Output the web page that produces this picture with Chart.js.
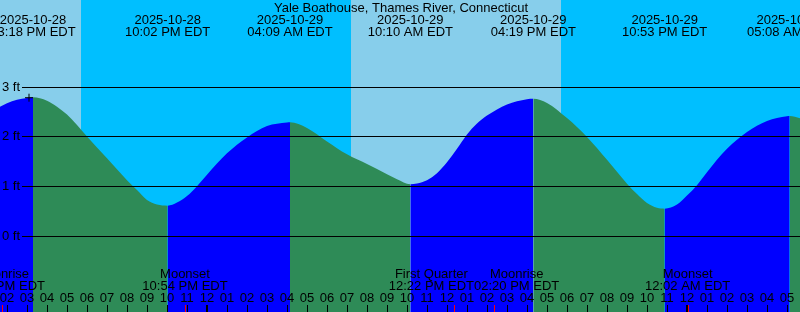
<!DOCTYPE html>
<html><head><meta charset="utf-8">
<script src="https://cdn.jsdelivr.net/npm/chart.js@4/dist/chart.umd.min.js"></script>
<style>html,body{margin:0;padding:0;background:#fff;overflow:hidden}#wrap{width:800px;height:312px}</style>
</head><body><div id="wrap"><canvas id="c" width="800" height="312"></canvas></div>
<script>
const TITLE = 'Yale Boathouse, Thames River, Connecticut';
// Times are hours since 2025-10-28 00:00 EDT; heights in feet
const sampleHours = [13.6,14,14.5,15,16,16.5,17,17.5,18,19,20,20.5,21,21.5,22.5,23,23.5,24,25,26,27,28,29,30,31,32,33,33.5,34.5,35,35.5,36,36.5,37,37.5,38,39,40,41,42,43,44,45,45.5,46,46.5,47.5,48,48.5,49,50,51,52,53,53.7];
const sampleFeet  = [2.60,2.68,2.75,2.785,2.73,2.61,2.45,2.24,2.01,1.57,1.13,0.93,0.73,0.64,0.68,0.81,1.01,1.24,1.67,1.99,2.22,2.29,2.18,1.91,1.65,1.455,1.25,1.15,1.065,1.13,1.27,1.49,1.76,2.05,2.27,2.43,2.655,2.76,2.685,2.38,2.00,1.54,1.06,0.85,0.67,0.575,0.64,0.82,1.03,1.29,1.76,2.10,2.32,2.415,2.37];

const extremeKind  = ['High','Low','High','Low','High','Low','High'];
const extremeDates = ['2025-10-28','2025-10-28','2025-10-29','2025-10-29','2025-10-29','2025-10-29','2025-10-30'];
const extremeClock = ['03:18 PM EDT','10:02 PM EDT','04:09 AM EDT','10:10 AM EDT','04:19 PM EDT','10:53 PM EDT','05:08 AM EDT'];
const extremeFeet  = [2.80,0.617,2.295,1.05,2.77,0.557,2.42];

const moonNames = ['Moonrise','Moonset','First Quarter','Moonrise','Moonset'];
const moonDates = ['2025-10-28','2025-10-28','2025-10-29','2025-10-29','2025-10-30'];
const moonClock = ['01:46 PM EDT','10:54 PM EDT','12:22 PM EDT','02:20 PM EDT','12:02 AM EDT'];

const sunsetDates  = ['2025-10-28','2025-10-29'];
const sunsetClock  = ['05:42 PM EDT','05:42 PM EDT'];
const sunriseDates = ['2025-10-29'];
const sunriseClock = ['07:12 AM EDT'];

const gridFeet = [0,1,2,3];
const markHour = 15.1, markFeet = 2.79;

const X_MIN = 13.65, X_MAX = 53.65;
const Y_MIN = -1.524, Y_MAX = 4.757;

const NIGHT = '#00bfff', DAY = '#87ceeb', BLUE = '#0000ff', GREEN = '#2e8b57';
const FONT = '13px "Liberation Sans", Arial, sans-serif';

function toHours(date, clock){
  const d = parseInt(date.slice(8,10),10);
  const m = clock.match(/(\d+):(\d+)\s*(AM|PM)/);
  let hh = parseInt(m[1],10) % 12; if (m[3]==='PM') hh += 12;
  return (d-28)*24 + hh + parseInt(m[2],10)/60;
}
const extremeHours = extremeDates.map((d,i)=>toHours(d, extremeClock[i]));
const moonHours = moonDates.map((d,i)=>toHours(d, moonClock[i]));
const sunsetHours = sunsetDates.map((d,i)=>toHours(d, sunsetClock[i]));
const sunriseHours = sunriseDates.map((d,i)=>toHours(d, sunriseClock[i]));

const pts = sampleHours.map((h,i)=>({x:h,y:sampleFeet[i]}))
  .concat(extremeHours.map((h,i)=>({x:h,y:extremeFeet[i]})))
  .sort((a,b)=>a.x-b.x);

function segColor(ctx){
  const x1 = ctx.p1.parsed.x;
  for (let i=0;i<extremeHours.length;i++){
    if (extremeHours[i] >= x1 - 1e-6) return extremeKind[i]==='High' ? BLUE : GREEN;
  }
  return extremeKind[extremeKind.length-1]==='High' ? GREEN : BLUE;
}

const skyPlugin = {
  id:'sky',
  beforeDatasetsDraw(chart){
    const {ctx, scales:{x}} = chart;
    ctx.save();
    ctx.fillStyle = NIGHT; ctx.fillRect(0,0,800,312);
    const ev = sunsetHours.map(h=>({h,t:'set'})).concat(sunriseHours.map(h=>({h,t:'rise'}))).sort((p,q)=>p.h-q.h);
    let start = (ev.length && ev[0].t==='set') ? X_MIN : null;
    ctx.fillStyle = DAY;
    for (const e of ev){
      if (e.t==='rise') start = e.h;
      else if (start!==null){
        const x0 = Math.round(x.getPixelForValue(start)), x1 = Math.round(x.getPixelForValue(e.h));
        ctx.fillRect(x0, 0, x1-x0, 312); start = null;
      }
    }
    if (start!==null){ const x0 = Math.round(x.getPixelForValue(start)); ctx.fillRect(x0,0,800-x0,312); }
    ctx.restore();
  },
  afterDatasetsDraw(chart){
    const {ctx, scales:{x,y}} = chart;
    ctx.save();
    ctx.font = FONT; ctx.fillStyle = '#000';
    for (const f of gridFeet){
      const py = Math.floor(y.getPixelForValue(f));
      ctx.fillRect(22, py, 800-22, 1);
      ctx.textAlign='left'; ctx.textBaseline='middle';
      ctx.fillText(f+' ft', 2, py+0.5);
    }
    ctx.textBaseline='alphabetic';
    ctx.textAlign='center';
    ctx.fillText(TITLE, 401, 12);
    extremeHours.forEach((h,i)=>{
      const px = x.getPixelForValue(h);
      ctx.fillText(extremeDates[i], px, 24);
      ctx.fillText(extremeClock[i], px, 36);
    });
    for (let h=Math.ceil(X_MIN); h<=Math.floor(X_MAX); h++){
      const px = Math.round(x.getPixelForValue(h));
      const hr = ((h%12)===0) ? 12 : (h%12);
      ctx.fillText(String(hr).padStart(2,'0'), px, 302);
      const mid = (h%24)===0;
      ctx.fillRect(mid ? px-1 : px, 305, mid?2:1, 7);
    }
    const labs = moonHours.map((h,i)=>{
      const w = Math.max(ctx.measureText(moonNames[i]).width, ctx.measureText(moonClock[i]).width);
      return {c:x.getPixelForValue(h), w, i};
    });
    for (let k=1;k<labs.length;k++){
      const a=labs[k-1], b=labs[k];
      const need=(a.w+b.w)/2, gap=b.c-a.c;
      if (gap<need){ const o=(need-gap)/2; a.c-=o; b.c+=o; }
    }
    labs.forEach(l=>{
      ctx.fillText(moonNames[l.i], l.c, 278);
      ctx.fillText(moonClock[l.i], l.c, 290);
    });
    ctx.fillStyle='#ff0000';
    moonHours.forEach(h=>{ const px=Math.round(x.getPixelForValue(h)); ctx.fillRect(px,305,1,7); });
    ctx.restore();
  }
};

new Chart(document.getElementById('c'), {
  type:'line',
  data:{datasets:[
    {type:'line', data:[{x:markHour,y:markFeet}], showLine:false, pointStyle:'cross', pointRadius:4, pointBorderColor:'#000', pointBorderWidth:1, borderColor:'#000', order:0, clip:false},
    {data:pts, borderWidth:0, borderColor:'rgba(0,0,0,0)', pointRadius:0, fill:'start', backgroundColor:GREEN,
     cubicInterpolationMode:'monotone', segment:{backgroundColor:segColor}, order:1}
  ]},
  options:{
    responsive:false, animation:false, devicePixelRatio:1,
    layout:{padding:0, autoPadding:false},
    plugins:{legend:{display:false}, tooltip:{enabled:false}, title:{display:false}},
    events:[],
    scales:{
      x:{type:'linear', min:X_MIN, max:X_MAX, display:false},
      y:{type:'linear', min:Y_MIN, max:Y_MAX, display:false}
    }
  },
  plugins:[skyPlugin]
});
</script></body></html>
